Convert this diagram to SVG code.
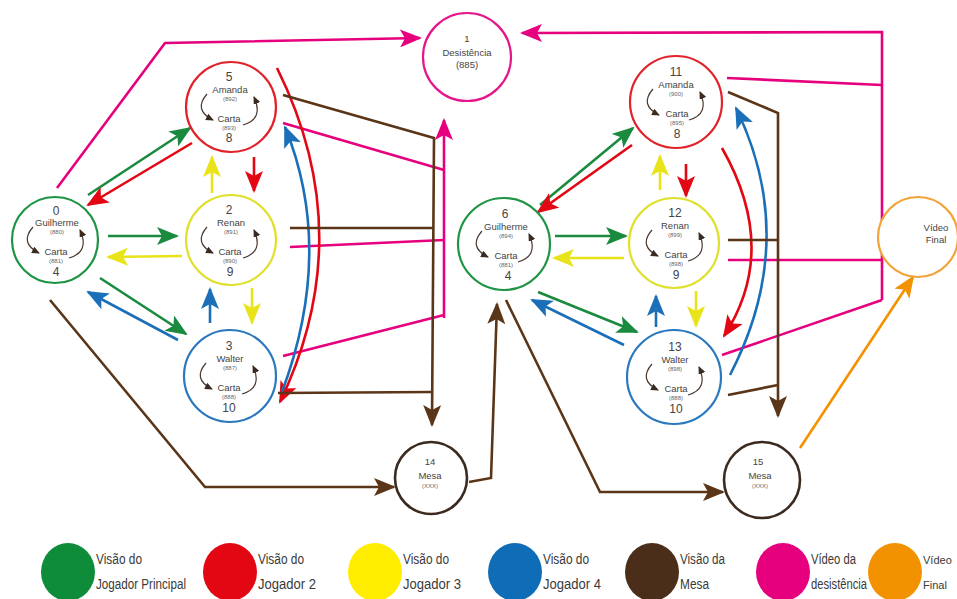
<svg xmlns="http://www.w3.org/2000/svg" width="957" height="599" viewBox="0 0 957 599">
<style>
.nc{fill:#fff;stroke-width:2.2}
.g{stroke:#1f9444}.r{stroke:#e1222b}.y{stroke:#dfe02c}.b{stroke:#2a78be}.p{stroke:#e4168a}.m{stroke:#3b2a1f;stroke-width:2.6}.o{stroke:#f2a33a}
.t{font-family:"Liberation Sans",Arial,sans-serif;fill:#444;text-anchor:middle}
.n{font-size:12px}.nm{font-size:9.5px}.c{font-size:6px;fill:#666}
.lt{font-family:"Liberation Sans",Arial,sans-serif;font-size:14px;fill:#3a3a3a}
.cn path{fill:none;stroke-width:2.6}
.sa{fill:none;stroke:#4a3a30;stroke-width:1.2}
</style>
<defs>
<marker id="aG" markerUnits="userSpaceOnUse" markerWidth="22" markerHeight="18" viewBox="0 0 22 18" refX="20" refY="9" orient="auto"><path d="M0,0 L22,9 L0,18 L5,9 Z" fill="#1a8a3e"/></marker>
<marker id="aR" markerUnits="userSpaceOnUse" markerWidth="22" markerHeight="18" viewBox="0 0 22 18" refX="20" refY="9" orient="auto"><path d="M0,0 L22,9 L0,18 L5,9 Z" fill="#e30613"/></marker>
<marker id="aY" markerUnits="userSpaceOnUse" markerWidth="22" markerHeight="18" viewBox="0 0 22 18" refX="20" refY="9" orient="auto"><path d="M0,0 L22,9 L0,18 L5,9 Z" fill="#e9e41a"/></marker>
<marker id="aB" markerUnits="userSpaceOnUse" markerWidth="22" markerHeight="18" viewBox="0 0 22 18" refX="20" refY="9" orient="auto"><path d="M0,0 L22,9 L0,18 L5,9 Z" fill="#1a6fb8"/></marker>
<marker id="aM" markerUnits="userSpaceOnUse" markerWidth="22" markerHeight="18" viewBox="0 0 22 18" refX="20" refY="9" orient="auto"><path d="M0,0 L22,9 L0,18 L5,9 Z" fill="#5a3517"/></marker>
<marker id="aP" markerUnits="userSpaceOnUse" markerWidth="22" markerHeight="18" viewBox="0 0 22 18" refX="20" refY="9" orient="auto"><path d="M0,0 L22,9 L0,18 L5,9 Z" fill="#e6007e"/></marker>
<marker id="aO" markerUnits="userSpaceOnUse" markerWidth="22" markerHeight="18" viewBox="0 0 22 18" refX="20" refY="9" orient="auto"><path d="M0,0 L22,9 L0,18 L5,9 Z" fill="#f39200"/></marker>
<marker id="sa" markerUnits="userSpaceOnUse" markerWidth="8" markerHeight="7" viewBox="0 0 8 7" refX="7" refY="3.5" orient="auto"><path d="M0,0 L8,3.5 L0,7 Z" fill="#3a2a20"/></marker>
<g id="loop"><path class="sa" d="M-23,-13 Q-37,3 -17,13" marker-end="url(#sa)"/><path class="sa" d="M13,18 Q34,12 24,-10" marker-end="url(#sa)"/></g>
</defs>

<g id="connectors" class="cn">
<path d="M57,188 L165,43 L420,38" stroke="#e6007e" marker-end="url(#aP)"/>
<path d="M283,123 L444,170 M290,247 L444,240 M283,356 L444,315" stroke="#e6007e"/>
<path d="M444,318 L444,120" stroke="#e6007e" marker-end="url(#aP)"/>
<path d="M727,78 L882,85 M728,260 L882,260 M722,355 L882,300" stroke="#e6007e"/>
<path d="M882,300 L882,32 L522,33" stroke="#e6007e" marker-end="url(#aP)"/>
<path d="M88,195 L190,128" stroke="#1a8a3e" marker-end="url(#aG)"/>
<path d="M192,143 L88,205" stroke="#e30613" marker-end="url(#aR)"/>
<path d="M108,236 L177,236" stroke="#1a8a3e" marker-end="url(#aG)"/>
<path d="M182,256 L108,257" stroke="#e9e41a" marker-end="url(#aY)"/>
<path d="M100,278 L186,334" stroke="#1a8a3e" marker-end="url(#aG)"/>
<path d="M178,340 L88,292" stroke="#1a6fb8" marker-end="url(#aB)"/>
<path d="M50,300 L205,487 L394,487" stroke="#5a3517" marker-end="url(#aM)"/>
<path d="M212,193 L212,157" stroke="#e9e41a" marker-end="url(#aY)"/>
<path d="M254,157 L254,191" stroke="#e30613" marker-end="url(#aR)"/>
<path d="M252,288 L252,323" stroke="#e9e41a" marker-end="url(#aY)"/>
<path d="M210,323 L210,289" stroke="#1a6fb8" marker-end="url(#aB)"/>
<path d="M277,68 Q360,235 280,402" stroke="#e30613" marker-end="url(#aR)"/>
<path d="M282,392 Q335,250 285,127" stroke="#1a6fb8" marker-end="url(#aB)"/>
<path d="M283,95 L434,138 L432,425" stroke="#5a3517" marker-end="url(#aM)"/>
<path d="M290,228 L433,228 M278,393 L432,392" stroke="#5a3517"/>
<path d="M469,482 L491,478 L497,304" stroke="#5a3517" marker-end="url(#aM)"/>
<path d="M506,300 L600,492 L723,492" stroke="#5a3517" marker-end="url(#aM)"/>
<path d="M540,205 L633,128" stroke="#1a8a3e" marker-end="url(#aG)"/>
<path d="M632,145 L538,212" stroke="#e30613" marker-end="url(#aR)"/>
<path d="M555,236 L626,236" stroke="#1a8a3e" marker-end="url(#aG)"/>
<path d="M624,258 L554,258" stroke="#e9e41a" marker-end="url(#aY)"/>
<path d="M538,292 L637,332" stroke="#1a8a3e" marker-end="url(#aG)"/>
<path d="M624,345 L532,300" stroke="#1a6fb8" marker-end="url(#aB)"/>
<path d="M660,190 L660,156" stroke="#e9e41a" marker-end="url(#aY)"/>
<path d="M686,164 L686,196" stroke="#e30613" marker-end="url(#aR)"/>
<path d="M696,291 L696,326" stroke="#e9e41a" marker-end="url(#aY)"/>
<path d="M656,327 L656,296" stroke="#1a6fb8" marker-end="url(#aB)"/>
<path d="M722,148 Q780,250 724,336" stroke="#e30613" marker-end="url(#aR)"/>
<path d="M730,375 Q800,240 736,108" stroke="#1a6fb8" marker-end="url(#aB)"/>
<path d="M728,92 L778,113 L778,416" stroke="#5a3517" marker-end="url(#aM)"/>
<path d="M728,240 L778,240 M728,395 L778,385" stroke="#5a3517"/>
<path d="M800,448 L913,277" stroke="#f39200" marker-end="url(#aO)"/>
</g>

<g id="node0"><circle class="nc g" cx="55" cy="240" r="43"/>
<text class="t n" x="56" y="215">0</text><text class="t nm" x="57" y="225.5">Guilherme</text><text class="t c" x="57" y="233.5">(880)</text>
<text class="t nm" x="56" y="254.5">Carta</text><text class="t c" x="56" y="262.5">(881)</text><text class="t n" x="56" y="276">4</text>
<use href="#loop" x="56" y="240"/></g>

<g id="node5"><circle class="nc r" cx="231" cy="107" r="45"/>
<text class="t n" x="229" y="81">5</text><text class="t nm" x="230" y="92.5">Amanda</text><text class="t c" x="230" y="100.5">(892)</text>
<text class="t nm" x="229" y="121.5">Carta</text><text class="t c" x="229" y="129.5">(893)</text><text class="t n" x="229" y="142">8</text>
<use href="#loop" x="230" y="107"/></g>

<g id="node2"><circle class="nc y" cx="231" cy="240" r="45"/>
<text class="t n" x="229" y="214">2</text><text class="t nm" x="231" y="225.5">Renan</text><text class="t c" x="231" y="233.5">(891)</text>
<text class="t nm" x="230" y="254.5">Carta</text><text class="t c" x="230" y="262.5">(890)</text><text class="t n" x="230" y="276">9</text>
<use href="#loop" x="230" y="240"/></g>

<g id="node3"><circle class="nc b" cx="230" cy="376" r="46"/>
<text class="t n" x="229" y="350">3</text><text class="t nm" x="230" y="361.5">Walter</text><text class="t c" x="230" y="369.5">(887)</text>
<text class="t nm" x="229" y="390.5">Carta</text><text class="t c" x="229" y="398.5">(888)</text><text class="t n" x="229" y="412">10</text>
<use href="#loop" x="229" y="376"/></g>

<g id="node1"><circle class="nc p" cx="467" cy="57" r="44"/>
<text class="t nm" x="467" y="42">1</text><text class="t" style="font-size:9.5px" x="467" y="56">Desistência</text><text class="t" style="font-size:9.5px" x="467" y="68">(885)</text></g>

<g id="node6"><circle class="nc g" cx="504" cy="244" r="46"/>
<text class="t n" x="505" y="218">6</text><text class="t nm" x="506" y="229.5">Guilherme</text><text class="t c" x="506" y="237.5">(894)</text>
<text class="t nm" x="506" y="258.5">Carta</text><text class="t c" x="506" y="266.5">(881)</text><text class="t n" x="508" y="280">4</text>
<use href="#loop" x="505" y="244"/></g>

<g id="node11"><circle class="nc r" cx="676" cy="102" r="46"/>
<text class="t n" x="676" y="76">11</text><text class="t nm" x="676" y="87.5">Amanda</text><text class="t c" x="676" y="95.5">(900)</text>
<text class="t nm" x="677" y="116.5">Carta</text><text class="t c" x="677" y="124.5">(895)</text><text class="t n" x="677" y="138">8</text>
<use href="#loop" x="676" y="102"/></g>

<g id="node12"><circle class="nc y" cx="674" cy="243" r="45"/>
<text class="t n" x="675" y="217">12</text><text class="t nm" x="675" y="228.5">Renan</text><text class="t c" x="675" y="236.5">(899)</text>
<text class="t nm" x="676" y="257.5">Carta</text><text class="t c" x="676" y="265.5">(898)</text><text class="t n" x="676" y="279">9</text>
<use href="#loop" x="675" y="243"/></g>

<g id="node13"><circle class="nc b" cx="674" cy="377" r="47"/>
<text class="t n" x="675" y="351">13</text><text class="t nm" x="675" y="362.5">Walter</text><text class="t c" x="675" y="370.5">(898)</text>
<text class="t nm" x="676" y="391.5">Carta</text><text class="t c" x="676" y="399.5">(888)</text><text class="t n" x="676" y="413">10</text>
<use href="#loop" x="675" y="377"/></g>

<g id="node14"><circle class="nc m" cx="431" cy="478" r="36"/>
<text class="t nm" x="430" y="465">14</text><text class="t nm" x="430" y="479">Mesa</text><text class="t c" x="430" y="488">(XXX)</text></g>

<g id="node15"><circle class="nc m" cx="762" cy="480" r="38"/>
<text class="t nm" x="758" y="465">15</text><text class="t nm" x="760" y="479">Mesa</text><text class="t c" x="760" y="488">(XXX)</text></g>

<g id="videofinal"><circle class="nc o" cx="918" cy="237" r="40"/>
<text class="t nm" x="936" y="231">Vídeo</text><text class="t nm" x="936" y="243">Final</text></g>

<g id="legend">
<ellipse cx="68" cy="572" rx="27" ry="29" fill="#0e8c3a"/>
<text class="lt" x="96" y="564" textLength="46" lengthAdjust="spacingAndGlyphs">Visão do</text><text class="lt" x="96" y="589" textLength="90" lengthAdjust="spacingAndGlyphs">Jogador Principal</text>
<ellipse cx="230" cy="572" rx="27" ry="29" fill="#e30613"/>
<text class="lt" x="258" y="564" textLength="46" lengthAdjust="spacingAndGlyphs">Visão do</text><text class="lt" x="258" y="589" textLength="58" lengthAdjust="spacingAndGlyphs">Jogador 2</text>
<ellipse cx="375" cy="572" rx="27" ry="29" fill="#ffed00"/>
<text class="lt" x="403" y="564" textLength="46" lengthAdjust="spacingAndGlyphs">Visão do</text><text class="lt" x="403" y="589" textLength="58" lengthAdjust="spacingAndGlyphs">Jogador 3</text>
<ellipse cx="515" cy="572" rx="27" ry="29" fill="#0f6cb6"/>
<text class="lt" x="543" y="564" textLength="46" lengthAdjust="spacingAndGlyphs">Visão do</text><text class="lt" x="543" y="589" textLength="58" lengthAdjust="spacingAndGlyphs">Jogador 4</text>
<ellipse cx="652" cy="572" rx="27" ry="29" fill="#4b2e1a"/>
<text class="lt" x="680" y="564" textLength="45" lengthAdjust="spacingAndGlyphs">Visão da</text><text class="lt" x="680" y="589" textLength="29" lengthAdjust="spacingAndGlyphs">Mesa</text>
<ellipse cx="783" cy="572" rx="27" ry="29" fill="#e6007e"/>
<text class="lt" x="811" y="564" textLength="45" lengthAdjust="spacingAndGlyphs">Vídeo da</text><text class="lt" x="811" y="589" textLength="56" lengthAdjust="spacingAndGlyphs">desistência</text>
<ellipse cx="895" cy="572" rx="27" ry="29" fill="#f39200"/>
<text class="lt" style="font-size:11px" x="923" y="564">Vídeo</text><text class="lt" style="font-size:11px" x="923" y="589">Final</text>
</g>
</svg>
